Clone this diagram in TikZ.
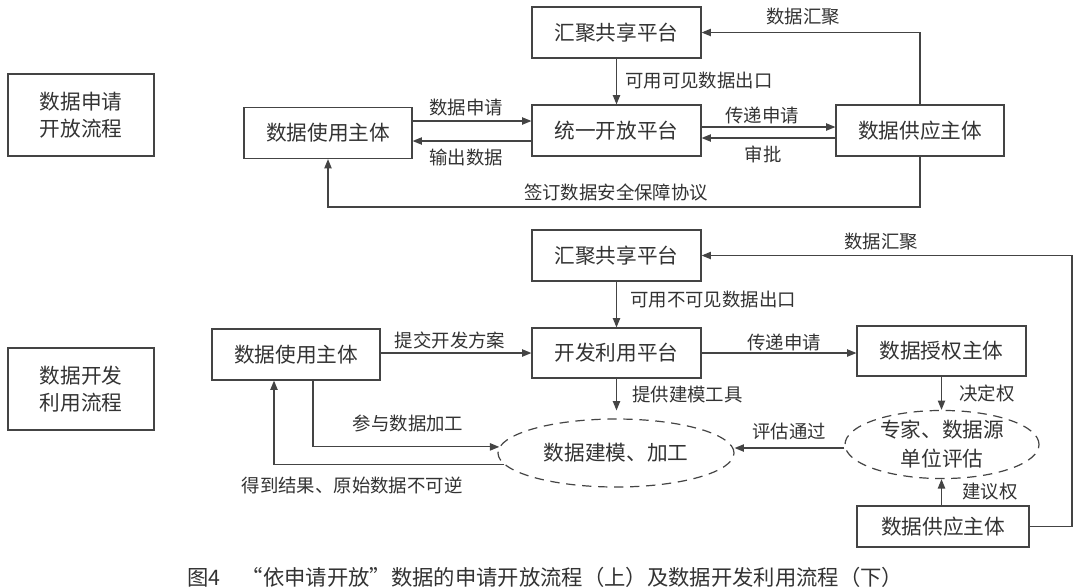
\documentclass[tikz,border=0pt]{standalone}
\usepackage{fontspec}
\setmainfont{Noto Sans CJK SC}
\usetikzlibrary{arrows.meta,shapes.geometric}
\definecolor{ink}{HTML}{333333}
\definecolor{linec}{HTML}{444444}
\begin{document}
\begin{tikzpicture}[x=0.75pt,y=-0.75pt,
  box/.style={draw=linec,line width=0.9pt,inner sep=0pt,align=center,text=ink,
    font=\fontsize{15.5}{20}\selectfont,minimum width=126pt,minimum height=38.25pt},
  tagbox/.style={box,minimum width=109.5pt,minimum height=61.5pt},
  oval/.style={ellipse,draw=linec,line width=0.9pt,dash pattern=on 7pt off 5pt,
    inner sep=0pt,align=center,text=ink,font=\fontsize{15.5}{21.75}\selectfont},
  lab/.style={inner sep=0pt,text=ink,font=\fontsize{13.8}{16}\selectfont},
  arr/.style={draw=linec,line width=0.9pt,-{Triangle[length=7pt,width=5.5pt]}},
  plain/.style={draw=linec,line width=0.9pt}]
\useasboundingbox (0,0) rectangle (1080,587);
\fill[white] (0,0) rectangle (1080,587);
% level coordinates
\coordinate (y121) at (0,121);
\coordinate (y141) at (0,141);
\coordinate (y127) at (0,127);
\coordinate (y138) at (0,138);
\coordinate (y207) at (0,207);
\coordinate (x313) at (313,0);
\coordinate (x274) at (274,0);
\coordinate (x1072) at (1072,0);
% ---------- top ----------
\node[tagbox] (L1) at (81,115) {数据申请\\开放流程};
\node[box] (U1) at (328,133) {数据使用主体};
\node[box,minimum width=126.75pt] (H1) at (616.5,32.5) {汇聚共享平台};
\node[box,minimum width=126.75pt] (T1) at (616.5,130.5) {统一开放平台};
\node[box] (S1) at (920,130.5) {数据供应主体};

\draw[arr] (S1.north) |- (H1.east);
\node[lab] (lt1) at (803,17) {数据汇聚};
\draw[arr] (H1.south) -- (T1.north);
\node[lab,anchor=west] (lt2) at (625,81) {可用可见数据出口};
\draw[arr] (U1.east |- y121) -- (T1.west |- y121);
\node[lab] (lt3) at (466,108) {数据申请};
\draw[arr] (T1.west |- y141) -- (U1.east |- y141);
\node[lab] (lt4) at (466,157) {输出数据};
\draw[arr] (T1.east |- y127) -- (S1.west |- y127);
\node[lab] (lt5) at (762,115) {传递申请};
\draw[arr] (S1.west |- y138) -- (T1.east |- y138);
\node[lab] (lt6) at (763,154) {审批};
\draw[arr] (S1.south) |- (U1.south |- y207) -- (U1.south);
\node[lab] (lt7) at (616,192) {签订数据安全保障协议};
% ---------- bottom ----------
\node[tagbox] (L2) at (81,389) {数据开发\\利用流程};
\node[box] (U2) at (296,354.5) {数据使用主体};
\node[box,minimum width=126.75pt] (H2) at (616.5,255.5) {汇聚共享平台};
\node[box,minimum width=126.75pt,minimum height=37.5pt] (D2) at (616.5,353) {开发利用平台};
\node[box,minimum width=126.75pt,minimum height=37.5pt] (A2) at (941.5,351) {数据授权主体};
\node[oval,minimum width=177pt,minimum height=51pt] (E1) at (616,453) {数据建模、加工};
\node[oval,minimum width=145.5pt,minimum height=48.75pt] (E2) at (942,444.5) {专家、数据源\\单位评估};
\node[box,minimum width=129pt,minimum height=30.75pt] (S2) at (943,526.5) {数据供应主体};

\draw[arr] (S2.east) -| (x1072 |- S2.east) |- (H2.east);
\node[lab] (lb1) at (881,242) {数据汇聚};
\draw[arr] (H2.south) -- (D2.north);
\node[lab,anchor=west] (lb2) at (630,300) {可用不可见数据出口};
\draw[arr] (U2.east |- D2.west) -- (D2.west);
\node[lab] (lb3) at (450,340) {提交开发方案};
\draw[arr] (D2.east) -- (A2.west |- D2.east);
\node[lab] (lb4) at (784,342) {传递申请};
\draw[arr] (D2.south) -- ([yshift=6pt]D2.south |- E1.north);
\node[lab,anchor=west] (lb5) at (632,395) {提供建模工具};
\draw[arr] (A2.south) -- (A2.south |- E2.north);
\node[lab] (lb6) at (987,393) {决定权};
\draw[arr] (U2.south -| x313) |- (E1.177);
\node[lab] (lb7) at (408,423) {参与数据加工};
\draw[arr] (E2.west |- 0,448) -- (E1.east |- 0,448);
\node[lab] (lb8) at (789,431) {评估通过};
\draw[arr] (E1.186) -| (U2.south -| x274);
\node[lab] (lb9) at (352,485) {得到结果、原始数据不可逆};
\draw[arr] (S2.north -| A2.south) -- (A2.south |- E2.south);
\node[lab] (lb10) at (990,492) {建议权};
% caption
\node[lab,anchor=west,font=\fontsize{16}{18}\selectfont] (cap) at (187,577)
  {图4\hspace{1em}“依申请开放”数据的申请开放流程（上）及数据开发利用流程（下）};
\end{tikzpicture}
\end{document}
